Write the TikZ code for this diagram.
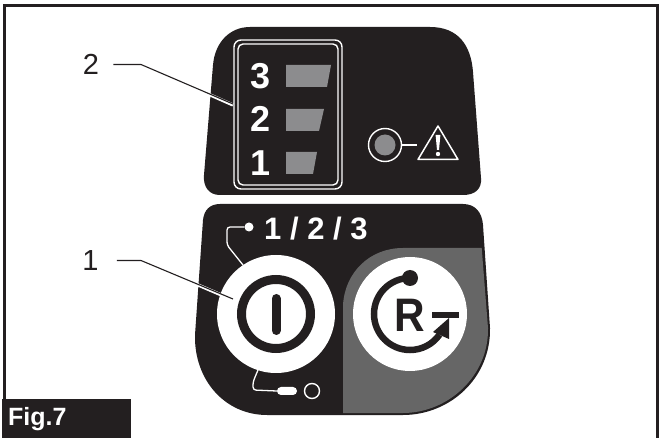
\documentclass[tikz,border=0pt]{standalone}
\usepackage{fontspec}
\setmainfont{Liberation Sans}
\usetikzlibrary{arrows.meta,calc,positioning}
\definecolor{Panel_Black}{HTML}{231F20}
\definecolor{Bar_Gray}{HTML}{8C8C8E}
\definecolor{Field_Gray}{HTML}{666666}
\tikzset{
    callout/.style={font=\fontsize{29}{29}\selectfont, text=Panel_Black, inner sep=0pt},
    level/.style={font=\fontsize{36}{36}\selectfont\bfseries, text=white, inner sep=0pt},
    bar/.style={fill=Bar_Gray, draw=none},
    wire/.style={draw=white, line width=1.3pt, line join=round},
    leader/.style={draw=Panel_Black, line width=1.1pt}
}

\begin{document}
\begin{tikzpicture}[x=1pt, y=-1pt, >=Stealth]
    \useasboundingbox (0,0) rectangle (659,438);
    \fill[white] (0,0) rectangle (659,438);

    % Outer frame
    \draw[Panel_Black, line width=3pt] (4.5,438) -- (4.5,5.5) -- (657,5.5) -- (657,438);

    % Upper panel
    \fill[Panel_Black] (250,27) -- (430,27) .. controls (458,27) and (471,45) .. (473,72)
        -- (481,178) .. controls (482,189) and (475,195) .. (463,195)
        -- (220,195) .. controls (209,195) and (203,187) .. (204,175)
        -- (213,65) .. controls (215,42) and (230,27) .. (250,27) -- cycle;

    % Level window
    \draw[white, line width=1.4pt, rounded corners=7pt] (234,40) rectangle (342,189);
    \draw[white, line width=1.4pt, rounded corners=5pt] (238,44) rectangle (338,185);

    \node[level] (levelThree) at (261,76) {3};
    \node[level] (levelTwo) at (261,118.5) {2};
    \node[level] (levelOne) at (261,163) {1};
    \fill[bar] (286,65) -- (331,65) -- (327,87) -- (286,87) -- cycle;
    \fill[bar] (286,109) -- (324,109) -- (319,131) -- (286,131) -- cycle;
    \fill[bar] (286,152) -- (317,152) -- (313,174) -- (286,174) -- cycle;

    % Warning lamp
    \node[circle, draw=white, line width=1.4pt, fill=Panel_Black, minimum size=33pt, inner sep=0pt] (lampRing) at (385,145) {};
    \node[circle, fill=Bar_Gray, minimum size=21pt, inner sep=0pt] (lamp) at (385,145) {};
    \coordinate (warnLeft) at (417,145);
    \draw[wire] (lampRing) -- (warnLeft);
    \draw[white, line width=1.5pt, line join=round] (438,126) -- (458,159.5) -- (418,159.5) -- cycle;
    \fill[white] (435.6,135) -- (440.4,135) -- (439,150) -- (437,150) -- cycle;
    \fill[white] (438,154) circle (2.2);

    % Lower panel
    \fill[Panel_Black] (220,204) -- (463,204) .. controls (475,204) and (482,212) .. (483,225)
        -- (490,328) .. controls (491,378) and (450,415) .. (403,415)
        -- (267,415) .. controls (225,415) and (194,380) .. (195,335)
        -- (203,220) .. controls (204,210) and (210,204) .. (220,204) -- cycle;

    % Reset field
    \fill[Field_Gray] (403,248) -- (481.7,248) -- (488,328) .. controls (489,376) and (448,413) .. (403,413)
        -- (343,413) -- (343,305) .. controls (345,272) and (370,248) .. (403,248) -- cycle;

    % Power button
    \node[circle, fill=white, minimum size=118pt, inner sep=0pt] (powerBtn) at (276,314) {};
    \draw[Panel_Black, line width=9pt] (powerBtn.center) circle (34.5);
    \draw[Panel_Black, line width=9pt, line cap=round] (276,298.5) -- (276,330.5);

    % Reset button
    \node[circle, fill=white, minimum size=114pt, inner sep=0pt] (resetBtn) at (410,314) {};
    \draw[Panel_Black, line width=6.5pt] (410,278) arc[start angle=270, end angle=35, radius=36];
    \fill[Panel_Black] (410,278) circle (8);
    \fill[Panel_Black] (449,318) -- (449,339) -- (433,332) -- cycle;
    \fill[Panel_Black] (432,312) rectangle (459,318);
    \node[font=\fontsize{47}{47}\selectfont\bfseries, text=Panel_Black, inner sep=0pt, xscale=0.9] (resetR) at (410,315) {R};

    % Mode marks above and below the button
    \node[circle, fill=white, minimum size=9pt, inner sep=0pt] (dotOn) at (249,227) {};
    \node[font=\fontsize{31}{31}\selectfont\bfseries, text=white, inner sep=0pt, anchor=west] (modeText) at (264,228.5) {1 / 2 / 3};
    \draw[wire, rounded corners=3pt] (dotOn.west) -- ++(-5,0) -- (227,227) -- (227,245) -- (243,265);
    \node[fill=white, rounded corners=4pt, minimum width=20pt, minimum height=8pt, inner sep=0pt] (pill) at (287,391) {};
    \node[circle, draw=white, line width=1.4pt, minimum size=15pt, inner sep=0pt] (ringOff) at (312,391) {};
    \draw[wire, rounded corners=3pt] (pill.west) -- (253,390) -- (253,382) -- (258,370);

    % Callouts
    \node[callout] (labelTwo) at (91,64.5) {2};
    \node[callout] (labelOne) at (90.5,260.5) {1};
    \coordinate (bendTwo) at (141,64.5);
    \coordinate (endTwo) at (233,105);
    \coordinate (bendOne) at (141,260.5);
    \coordinate (endOne) at (233,300);
    \draw[white, line width=3.2pt] (bendTwo) -- (endTwo);
    \draw[white, line width=3.2pt] (bendOne) -- (endOne);
    \draw[leader] ($(labelTwo.east)+(14,0)$) -- (bendTwo) -- ($(endTwo)+(0,-1)$);
    \draw[leader] ($(labelOne.east)+(18,0)$) -- (bendOne) -- ($(endOne)+(0,-1)$);

    % Figure tag
    \fill[Panel_Black] (2,399) rectangle (131,438);
    \node[font=\fontsize{25}{25}\selectfont\bfseries, text=white, inner sep=0pt, anchor=west] (figTag) at (8,419) {Fig.7};
\end{tikzpicture}
\end{document}
